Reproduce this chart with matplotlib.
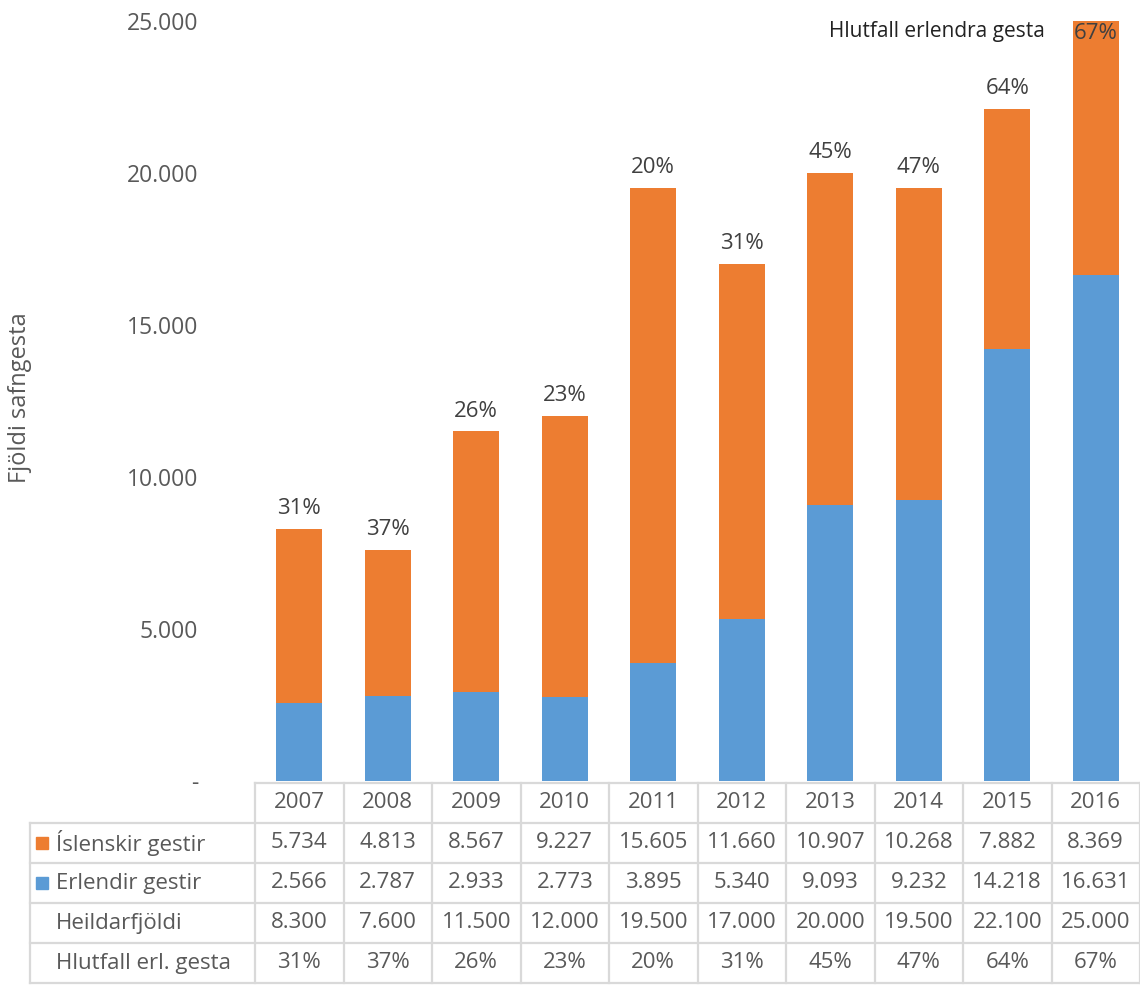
import matplotlib
matplotlib.use("Agg")
import matplotlib.pyplot as plt
from matplotlib.patches import Rectangle
import numpy as np

plt.rcParams['font.family'] = ['Open Sans', 'DejaVu Sans']

# === Data ===
years = ['2007', '2008', '2009', '2010', '2011', '2012', '2013', '2014', '2015', '2016']
islenskir = [5734, 4813, 8567, 9227, 15605, 11660, 10907, 10268, 7882, 8369]
erlendir = [2566, 2787, 2933, 2773, 3895, 5340, 9093, 9232, 14218, 16631]
heild = [8300, 7600, 11500, 12000, 19500, 17000, 20000, 19500, 22100, 25000]
hlutfall = [31, 37, 26, 23, 20, 31, 45, 47, 64, 67]
yticks = [0, 5000, 10000, 15000, 20000, 25000]
ytick_labels = ['-', '5.000', '10.000', '15.000', '20.000', '25.000']

ORANGE = '#ED7D31'
BLUE = '#5B9BD5'
GRAY = '#595959'
DARK = '#404040'
LINE = '#D9D9D9'

W, H = 1140, 985
fig = plt.figure(figsize=(W / 100, H / 100), dpi=100)

def fx(px):
    return px / W

def fy(py):
    return 1 - py / H

# === Main bar axes ===
ax = fig.add_axes([fx(255), fy(781), fx(1140 - 255), (781 - 21) / H])
x = np.arange(len(years))
ax.bar(x, erlendir, width=0.52, color=BLUE)
ax.bar(x, islenskir, width=0.52, bottom=erlendir, color=ORANGE)
ax.set_xlim(-0.5, len(years) - 0.5)
ax.set_ylim(0, 25000)
ax.set_yticks(yticks)
ax.set_yticklabels(ytick_labels, fontsize=16.5, color=GRAY)
ax.tick_params(axis='y', length=0, pad=41)
ax.set_xticks([])
for s in ax.spines.values():
    s.set_visible(False)

# percentage labels
for i, (tot, p) in enumerate(zip(heild, hlutfall)):
    if tot + 1500 > 25000:
        ax.text(i, 25000 - 60, f'{p}%', ha='center', va='top', fontsize=16, color=DARK)
    else:
        ax.annotate(f'{p}%', (i, tot), xytext=(0, 7), textcoords='offset points',
                    ha='center', va='bottom', fontsize=16, color=DARK)

ax.text((1045 - 255) / 885, 1 - (31 - 21) / 760, 'Hlutfall erlendra gesta',
        transform=ax.transAxes, ha='right', va='center', fontsize=15, color='#222222')

fig.text(fx(20), fy(398), 'Fjöldi safngesta', rotation=90, ha='center', va='center',
         fontsize=17, color=GRAY)

# === Data table ===
tab = fig.add_axes([fx(30), fy(983), fx(1140 - 30), 200 / H])
unit = 885 / len(years)
left = -0.5 - (255 - 30) / unit
tab.set_xlim(left, len(years) - 0.5)
tab.set_ylim(5, 0)
tab.axis('off')

lw = 1.6
# grid lines of the table
tab.plot([-0.5, len(years) - 0.5], [0, 0], color=LINE, lw=lw, clip_on=False)
for r in range(1, 6):
    tab.plot([left, len(years) - 0.5], [r, r], color=LINE, lw=lw, clip_on=False)
tab.plot([left, left], [1, 5], color=LINE, lw=lw, clip_on=False)
for c in range(len(years) + 1):
    tab.plot([c - 0.5, c - 0.5], [0, 5], color=LINE, lw=lw, clip_on=False)

rows = [
    ('Íslenskir gestir', ORANGE, [f'{v:,}'.replace(',', '.') for v in islenskir]),
    ('Erlendir gestir', BLUE, [f'{v:,}'.replace(',', '.') for v in erlendir]),
    ('Heildarfjöldi', None, [f'{v:,}'.replace(',', '.') for v in heild]),
    ('Hlutfall erl. gesta', None, [f'{v}%' for v in hlutfall]),
]

FS = 16
for j, yr in enumerate(years):
    tab.text(j, 0.5, yr, ha='center', va='center', fontsize=FS, color=GRAY)

for r, (label, col, vals) in enumerate(rows, start=1):
    if col is not None:
        tab.add_patch(Rectangle((left + 6 / unit, r + 0.5 - 0.16), 12 / unit, 0.32,
                                color=col, clip_on=False))
    tab.text(left + 26 / unit, r + 0.5, label, ha='left', va='center', fontsize=FS, color=GRAY)
    for j, v in enumerate(vals):
        tab.text(j, r + 0.5, v, ha='center', va='center', fontsize=FS, color=GRAY)

fig.savefig('out.png', dpi=100)
